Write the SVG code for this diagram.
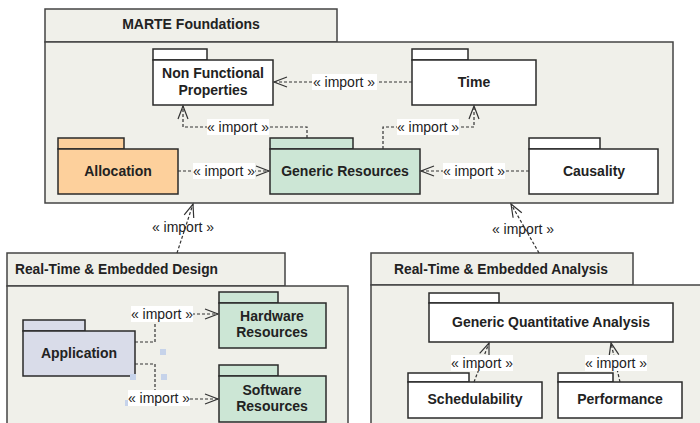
<svg xmlns="http://www.w3.org/2000/svg" width="700" height="423" viewBox="0 0 700 423">
<style>
.pkg{fill:#f0f0ea;stroke:#444;stroke-width:1.5}
.node{stroke:#2a2a2a;stroke-width:1.5}
.w{fill:#ffffff}
.org{fill:#fdd09c}
.grn{fill:#cce6d5}
.lav{fill:#d9dce9}
.t{font-family:"Liberation Sans",Arial,sans-serif;font-weight:bold;font-size:14px;fill:#222;text-anchor:middle}
.tl{font-family:"Liberation Sans",Arial,sans-serif;font-weight:bold;font-size:14px;fill:#222}
.lbl{font-family:"Liberation Sans",Arial,sans-serif;font-size:14px;fill:#222;text-anchor:middle}
.lb{fill:#ffffff}
.c{fill:none;stroke:#333;stroke-width:1.2;stroke-dasharray:3 2}
.h{fill:#c6d3ea}
</style>
<defs>
<marker id="arr" markerUnits="userSpaceOnUse" markerWidth="16" markerHeight="14" viewBox="-14 -7 16 14" refX="0" refY="0" orient="auto">
<path d="M-13,-5 L0,0 L-13,5" fill="none" stroke="#333" stroke-width="1.2"/>
</marker>
</defs>
<rect width="700" height="423" fill="#ffffff"/>

<g id="marte">
<rect class="pkg" x="45" y="9" width="292" height="33"/>
<rect class="pkg" x="45" y="42" width="628" height="161"/>
<text class="t" x="191" y="29">MARTE Foundations</text>
</g>
<g id="design">
<rect class="pkg" x="7" y="253" width="278" height="33"/>
<rect class="pkg" x="7" y="286" width="341" height="145"/>
<text class="tl" x="15" y="274" textLength="203" lengthAdjust="spacingAndGlyphs">Real-Time &amp; Embedded Design</text>
</g>
<g id="analysis">
<rect class="pkg" x="371" y="253" width="262" height="32"/>
<rect class="pkg" x="371" y="285" width="340" height="146"/>
<text class="tl" x="394" y="274" textLength="214" lengthAdjust="spacingAndGlyphs">Real-Time &amp; Embedded Analysis</text>
</g>

<g id="nfp">
<rect class="node w" x="153" y="49" width="54" height="11"/>
<rect class="node w" x="153" y="60" width="120" height="45"/>
<text class="t" x="213" y="78">Non Functional</text>
<text class="t" x="213" y="95">Properties</text>
</g>
<g id="time">
<rect class="node w" x="412" y="49" width="56" height="11"/>
<rect class="node w" x="412" y="60" width="124" height="45"/>
<text class="t" x="474" y="87">Time</text>
</g>
<g id="allocation">
<rect class="node org" x="58" y="138" width="66" height="11"/>
<rect class="node org" x="58" y="149" width="120" height="45"/>
<text class="t" x="118" y="176">Allocation</text>
</g>
<g id="genres">
<rect class="node grn" x="270" y="138" width="83" height="11"/>
<rect class="node grn" x="270" y="149" width="150" height="45"/>
<text class="t" x="345" y="176">Generic Resources</text>
</g>
<g id="causality">
<rect class="node w" x="529" y="138" width="71" height="11"/>
<rect class="node w" x="529" y="149" width="129" height="45"/>
<text class="t" x="594" y="176">Causality</text>
</g>

<g id="application">
<rect class="node lav" x="23" y="320" width="62" height="11"/>
<rect class="node lav" x="23" y="331" width="112" height="45"/>
<text class="t" x="79" y="358">Application</text>
</g>
<g id="hwres">
<rect class="node grn" x="219" y="292" width="59" height="11"/>
<rect class="node grn" x="219" y="303" width="107" height="45"/>
<text class="t" x="272" y="321">Hardware</text>
<text class="t" x="272" y="337">Resources</text>
</g>
<g id="swres">
<rect class="node grn" x="219" y="365" width="59" height="11"/>
<rect class="node grn" x="219" y="376" width="107" height="46"/>
<text class="t" x="272" y="395">Software</text>
<text class="t" x="272" y="411">Resources</text>
</g>

<g id="gqa">
<rect class="node w" x="429" y="293" width="70" height="10"/>
<rect class="node w" x="429" y="303" width="244" height="39"/>
<text class="t" x="551" y="327">Generic Quantitative Analysis</text>
</g>
<g id="sched">
<rect class="node w" x="408" y="373" width="61" height="9"/>
<rect class="node w" x="408" y="382" width="134" height="36"/>
<text class="t" x="475" y="404">Schedulability</text>
</g>
<g id="perf">
<rect class="node w" x="558" y="373" width="55" height="9"/>
<rect class="node w" x="558" y="382" width="124" height="36"/>
<text class="t" x="620" y="404">Performance</text>
</g>

<g id="handles">
<rect class="h" x="160" y="349" width="6" height="6"/>
<rect class="h" x="161" y="374" width="6" height="6"/>
<rect class="h" x="130" y="374" width="6" height="6"/>
<rect class="h" x="125" y="400" width="6" height="6"/>
</g>

<g id="connectors">
<path class="c" d="M412,82 H274" marker-end="url(#arr)"/>
<path class="c" d="M307,138 V127 H183 V106" marker-end="url(#arr)"/>
<path class="c" d="M383,149 V127 H474 V106" marker-end="url(#arr)"/>
<path class="c" d="M178,171 H269" marker-end="url(#arr)"/>
<path class="c" d="M529,171 H421" marker-end="url(#arr)"/>
<path class="c" d="M177,253 L193,204" marker-end="url(#arr)"/>
<path class="c" d="M539,253 L511,204" marker-end="url(#arr)"/>
<path class="c" d="M135,342 H155 V314 H218" marker-end="url(#arr)"/>
<path class="c" d="M135,364 H155 V399 H218" marker-end="url(#arr)"/>
<path class="c" d="M474,382 L489,343" marker-end="url(#arr)"/>
<path class="c" d="M620,382 L611,343" marker-end="url(#arr)"/>

<rect class="lb" x="312" y="74" width="65" height="16"/>
<text class="lbl" x="344" y="87">« import »</text>
<rect class="lb" x="207" y="119" width="62" height="16"/>
<text class="lbl" x="238" y="132">« import »</text>
<rect class="lb" x="397" y="119" width="62" height="16"/>
<text class="lbl" x="428" y="132">« import »</text>
<rect class="lb" x="193" y="163" width="62" height="16"/>
<text class="lbl" x="224" y="176">« import »</text>
<rect class="lb" x="443" y="163" width="62" height="16"/>
<text class="lbl" x="474" y="176">« import »</text>
<text class="lbl" x="183" y="232">« import »</text>
<text class="lbl" x="523" y="234">« import »</text>
<rect class="lb" x="131" y="306" width="62" height="16"/>
<text class="lbl" x="162" y="319">« import »</text>
<rect class="lb" x="128" y="390" width="62" height="16"/>
<text class="lbl" x="159" y="403">« import »</text>
<rect class="lb" x="451" y="355" width="62" height="16"/>
<text class="lbl" x="482" y="368">« import »</text>
<rect class="lb" x="585" y="355" width="62" height="16"/>
<text class="lbl" x="616" y="368">« import »</text>
</g>
</svg>
